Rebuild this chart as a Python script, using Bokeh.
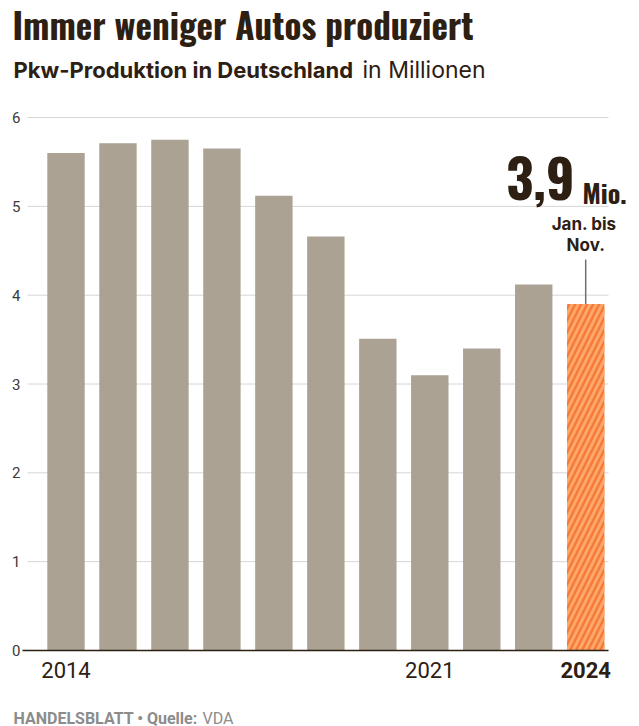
from bokeh.plotting import figure
from bokeh.models import Label, ColumnDataSource
from bokeh.core.properties import value
from bokeh.embed import file_html
from bokeh.resources import INLINE

# ---------------- data ----------------
years = [2014, 2015, 2016, 2017, 2018, 2019, 2020, 2021, 2022, 2023, 2024]
values = [5.60, 5.71, 5.75, 5.65, 5.12, 4.66, 3.51, 3.10, 3.40, 4.12, 3.90]
y_ticks = [0, 1, 2, 3, 4, 5, 6]
x_tick_years = [2014, 2021]
highlight_year = 2024

# ---------------- layout (page pixels -> data) ----------------
W, H = 639, 726
FRAME_L, FRAME_R = 27, 608
BAR0_PX, PX_PER_BAR = 65.5, 51.97
ZERO_PX, PX_PER_UNIT = 650, 88.83

def xd(px):
    return (px - BAR0_PX) / PX_PER_BAR

def yd(py):
    return (ZERO_PX - py) / PX_PER_UNIT

DARK = "#2d2013"
BAR = "#aba294"
GRID = "#d6d6d6"
COND = "Oswald"
SANS = "Inter"
NUM = "Roboto"

idx = list(range(len(years)))
hist = ColumnDataSource(dict(x=idx[:-1], top=values[:-1]))
last = ColumnDataSource(dict(x=idx[-1:], top=values[-1:]))

p = figure(width=W, height=H, output_backend="svg", toolbar_location=None,
           x_range=(xd(0), xd(W)), y_range=(yd(H), yd(0)), min_border=0)
p.axis.visible = False
p.grid.visible = False
p.outline_line_color = None

p.segment(x0=[xd(FRAME_L)] * len(y_ticks), x1=[xd(FRAME_R)] * len(y_ticks),
          y0=y_ticks, y1=y_ticks, line_color=GRID, line_width=1)

p.vbar(x="x", top="top", width=0.72, source=hist, fill_color=BAR, line_color=None)
p.vbar(x="x", top="top", width=0.72, source=last, fill_color="#f57a38",
       line_color=None, hatch_pattern="right_diagonal_line", hatch_color="#fda76b",
       hatch_scale=12, hatch_weight=3)

p.segment(x0=[xd(22)], x1=[xd(FRAME_R)], y0=[0], y1=[0], line_color=DARK, line_width=1.5)

p.text(x=[xd(20)] * len(y_ticks), y=y_ticks, text=[str(t) for t in y_ticks],
       text_font=value(NUM), text_font_size="15px", text_color="#3a3a3a",
       text_align="right", text_baseline="middle")

xt = [years.index(y) for y in x_tick_years]
p.text(x=xt, y=[yd(669.5)] * len(xt), text=[str(y) for y in x_tick_years],
       text_font=value(NUM), text_font_size="22px", text_color=DARK,
       text_align="center", text_baseline="middle")

def lab(x, py_mid, text, size, font=SANS, style="normal", color=DARK, align="left"):
    p.add_layout(Label(x=x, y=yd(py_mid), text=text, text_font=font, text_font_size=size,
                       text_font_style=style, text_color=color, text_align=align,
                       text_baseline="middle"))

hi = years.index(highlight_year)
lab(hi, 669.5, str(highlight_year), "22px", font=NUM, style="bold", align="center")

lab(xd(12), 23, "Immer weniger Autos produziert", "35px", font=COND, style="bold")
lab(xd(13), 69.5, "Pkw-Produktion in Deutschland", "22px", style="bold")
lab(xd(362), 69.5, "in Millionen", "23px")

lab(xd(574), 178, "3,9", "53px", font=COND, style="bold", align="right")
lab(xd(582), 191.5, "Mio.", "26px", font=COND, style="bold")
lab(hi - 0.03, 223.5, "Jan. bis", "17px", style="bold", align="center")
lab(hi, 244.5, "Nov.", "17px", style="bold", align="center")
p.segment(x0=[hi], x1=[hi], y0=[yd(259)], y1=[values[-1]], line_color="#777068", line_width=1.5)

lab(xd(13), 718, "HANDELSBLATT \u2022 Quelle:", "16px", font=NUM, style="bold", color="#8c8c8c")
lab(xd(202), 718, "VDA", "16px", font=NUM, color="#8c8c8c")

open("out.html", "w").write(file_html(p, INLINE))
